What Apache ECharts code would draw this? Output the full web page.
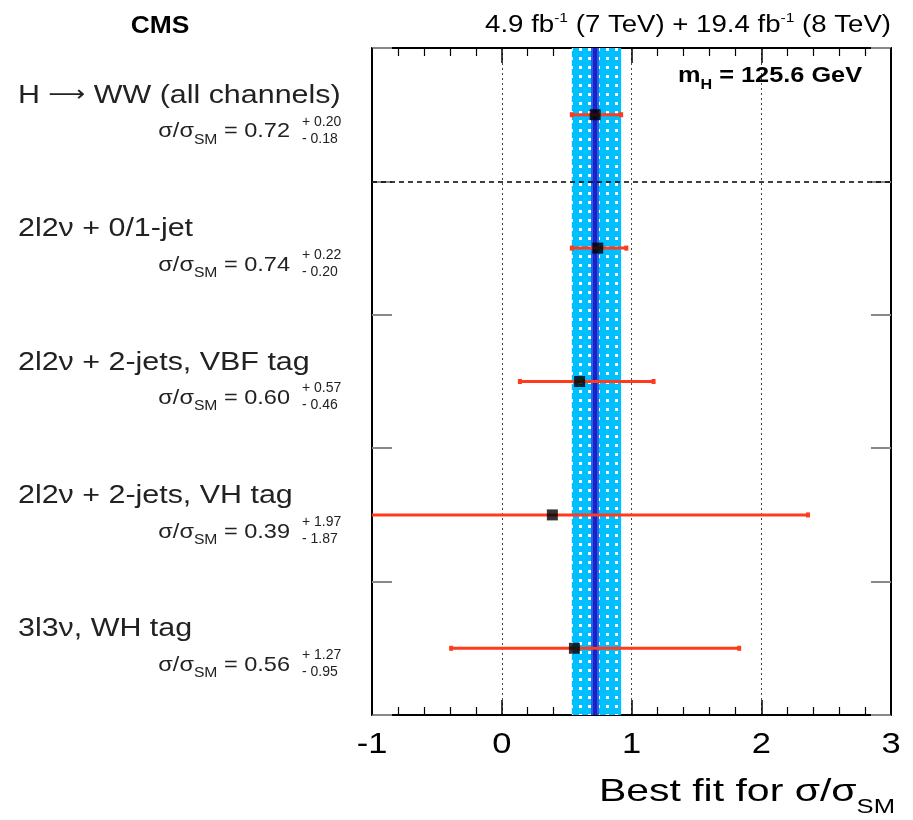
<!DOCTYPE html>
<html><head><meta charset="utf-8">
<script src="https://cdn.jsdelivr.net/npm/echarts@6/dist/echarts.min.js"></script>
<style>html,body{margin:0;padding:0;background:#fff}#c{width:913px;height:820px}</style>
</head><body><div id="c"></div>
<script>
// ---- data ----
const channels = ['H \u2192 WW (all channels)', '2l2\u03bd + 0/1-jet', '2l2\u03bd + 2-jets, VBF tag', '2l2\u03bd + 2-jets, VH tag', '3l3\u03bd, WH tag'];
const bestFit = [0.72, 0.74, 0.60, 0.39, 0.56];
const errUp   = [0.20, 0.22, 0.57, 1.97, 1.27];
const errDown = [0.18, 0.20, 0.46, 1.87, 0.95];
const xTickValues = [-1, 0, 1, 2, 3];
const massLabel = '125.6 GeV';

const XMIN = -1, XMAX = 3;
const FONT = '"Liberation Sans", Arial, Helvetica, sans-serif';
const RED = '#ff3b1c';

// dotted cyan pattern for the combined band
const pc = document.createElement('canvas');
pc.width = 9; pc.height = 9;
const pctx = pc.getContext('2d');
pctx.fillStyle = '#00bfff'; pctx.fillRect(0, 0, 9, 9);
pctx.fillStyle = '#ffffff'; pctx.fillRect(3, 3, 3, 3);

const rowY = channels.map((c, i) => i + 0.5);
const pointData = bestFit.map((v, i) => [v, rowY[i]]);
const errData = bestFit.map((v, i) => [v, rowY[i], v - errDown[i], v + errUp[i]]);
const comb = { v: bestFit[0], lo: bestFit[0] - errDown[0], hi: bestFit[0] + errUp[0] };

const chart = echarts.init(document.getElementById('c'), null, { renderer: 'canvas' });

const xAxisCommon = {
  type: 'value', min: XMIN, max: XMAX, interval: 1,
  axisLine: { show: true, onZero: false, lineStyle: { color: '#000', width: 2 } },
  axisTick: { show: true, inside: true, length: 15, lineStyle: { color: '#000', width: 1.5 } },
  minorTick: { show: true, splitNumber: 5, length: 8, lineStyle: { color: '#000', width: 1.2 } },
  axisLabel: { show: false },
  splitLine: { show: false }
};
const yAxisCommon = {
  type: 'value', min: 0, max: channels.length, interval: 1, inverse: true,
  axisLine: { show: true, onZero: false, lineStyle: { color: '#000', width: 2 } },
  axisTick: { show: true, inside: true, length: 20, lineStyle: { color: '#888', width: 2 } },
  axisLabel: { show: false },
  splitLine: { show: false }
};

chart.setOption({
  animation: false,
  backgroundColor: '#fff',
  grid: { left: 372, right: 22, top: 48, bottom: 105 },
  xAxis: [
    Object.assign({}, xAxisCommon, {
      position: 'bottom',
      splitLine: { show: true, lineStyle: { type: [2, 3], color: '#444', width: 1 } }
    }),
    Object.assign({}, xAxisCommon, { position: 'top' })
  ],
  yAxis: [
    Object.assign({}, yAxisCommon, { position: 'left' }),
    Object.assign({}, yAxisCommon, { position: 'right' })
  ],
  series: [
    {
      type: 'scatter', xAxisIndex: 0, yAxisIndex: 0, data: [], silent: true, z: 1,
      markArea: {
        silent: true,
        itemStyle: { color: { image: pc, repeat: 'repeat' }, borderWidth: 0 },
        data: [[{ xAxis: comb.lo, yAxis: 0 }, { xAxis: comb.hi, yAxis: channels.length }]]
      }
    },
    {
      type: 'scatter', xAxisIndex: 0, yAxisIndex: 0, data: [], silent: true, z: 2,
      markLine: {
        silent: true, symbol: 'none', label: { show: false },
        lineStyle: { color: '#2d5cf0', width: 8, type: 'solid' },
        data: [[{ coord: [comb.v, 0] }, { coord: [comb.v, channels.length] }]]
      }
    },
    {
      type: 'scatter', xAxisIndex: 0, yAxisIndex: 0, data: [], silent: true, z: 3,
      markLine: {
        silent: true, symbol: 'none', label: { show: false },
        lineStyle: { color: '#1a22c0', width: 4, type: 'solid' },
        data: [[{ coord: [comb.v, 0] }, { coord: [comb.v, channels.length] }]]
      }
    },
    {
      type: 'scatter', xAxisIndex: 0, yAxisIndex: 0, data: [], silent: true, z: 4,
      markLine: {
        silent: true, symbol: 'none', label: { show: false },
        lineStyle: { color: '#000', width: 1.5, type: [5, 4] },
        data: [[{ coord: [XMIN, 1] }, { coord: [XMAX, 1] }]]
      }
    },
    {
      type: 'custom', xAxisIndex: 0, yAxisIndex: 0, data: errData, silent: true, z: 5,
      renderItem: function (params, api) {
        const y = api.value(1), lo = api.value(2), hi = api.value(3);
        const l = Math.max(lo, XMIN), h = Math.min(hi, XMAX);
        const p1 = api.coord([l, y]), p2 = api.coord([h, y]);
        const ch = [{ type: 'line', shape: { x1: p1[0], y1: p1[1], x2: p2[0], y2: p2[1] },
          style: { stroke: RED, lineWidth: 3 } }];
        if (lo >= XMIN) ch.push({ type: 'rect', shape: { x: p1[0] - 2, y: p1[1] - 2.5, width: 4, height: 5 }, style: { fill: RED } });
        if (hi <= XMAX) ch.push({ type: 'rect', shape: { x: p2[0] - 2, y: p2[1] - 2.5, width: 4, height: 5 }, style: { fill: RED } });
        return { type: 'group', children: ch };
      }
    },
    {
      type: 'scatter', xAxisIndex: 0, yAxisIndex: 0, data: pointData, z: 6, silent: true,
      symbol: 'rect', symbolSize: 11, itemStyle: { color: '#000' }
    }
  ]
});

// ---- text labels ----
function fmt(v) { return v.toFixed(2); }
const g = [];
g.push({ type: 'text', x: 160, y: 26, scaleX: 1.1, style: { text: 'CMS', fontFamily: FONT, fontWeight: 'bold', fontSize: 24, fill: '#000', align: 'center', verticalAlign: 'middle' } });
g.push({ type: 'text', x: 891, y: 26, scaleX: 1.2, style: {
  text: '{t|4.9 fb}{s|-1}{t| (7 TeV) + 19.4 fb}{s|-1}{t| (8 TeV)}',
  align: 'right', verticalAlign: 'middle',
  rich: {
    t: { fontFamily: FONT, fontSize: 23, fill: '#000', lineHeight: 28 },
    s: { fontFamily: FONT, fontSize: 13, fill: '#000', lineHeight: 8, verticalAlign: 'top' }
  } } });
g.push({ type: 'text', x: 862, y: 76, z: 10, scaleX: 1.15, style: {
  text: '{t|m}{s|H}{t| = ' + massLabel + '}',
  align: 'right', verticalAlign: 'middle',
  rich: {
    t: { fontFamily: FONT, fontSize: 22, fontWeight: 'bold', fill: '#000', lineHeight: 32 },
    s: { fontFamily: FONT, fontSize: 14, fontWeight: 'bold', fill: '#000', lineHeight: 12, verticalAlign: 'bottom' }
  } } });

channels.forEach((name, i) => {
  const yc = chart.convertToPixel({ yAxisIndex: 0 }, rowY[i]);
  const parts = name.split('\u2192');
  const rt = parts.length > 1 ? '{t|' + parts[0] + '}{a|\u27f6}{t|' + parts[1] + '}' : '{t|' + name + '}';
  g.push({ type: 'text', x: 18, y: yc - 19, scaleX: 1.17, style: { text: rt, align: 'left', verticalAlign: 'middle',
    rich: {
      t: { fontFamily: FONT, fontSize: 26, fill: '#222', lineHeight: 30 },
      a: { fontFamily: '"DejaVu Sans", sans-serif', fontSize: 22, fill: '#222', lineHeight: 30 }
    } } });
  g.push({ type: 'text', x: 290, y: yc + 17, scaleX: 1.12, style: {
    text: '{t|\u03c3/\u03c3}{s|SM}{t| = ' + fmt(bestFit[i]) + '}',
    align: 'right', verticalAlign: 'middle',
    rich: {
      t: { fontFamily: FONT, fontSize: 21, fill: '#222', lineHeight: 30 },
      s: { fontFamily: FONT, fontSize: 14, fill: '#222', lineHeight: 12, verticalAlign: 'bottom' }
    } } });
  g.push({ type: 'text', x: 302, y: yc + 7, style: { text: '+ ' + fmt(errUp[i]), fontFamily: FONT, fontSize: 14, fill: '#222', align: 'left', verticalAlign: 'middle' } });
  g.push({ type: 'text', x: 302, y: yc + 24, style: { text: '- ' + fmt(errDown[i]), fontFamily: FONT, fontSize: 14, fill: '#222', align: 'left', verticalAlign: 'middle' } });
});

// x tick labels positioned from the axis scale
xTickValues.forEach(v => {
  const px = chart.convertToPixel({ xAxisIndex: 0 }, v);
  g.push({ type: 'text', x: px, y: 745, scaleX: 1.15, style: { text: String(v), fontFamily: FONT, fontSize: 30, fill: '#000', align: 'center', verticalAlign: 'middle' } });
});

g.push({ type: 'text', x: 895, y: 792, scaleX: 1.28, style: {
  text: '{t|Best fit for \u03c3/\u03c3}{s|SM}',
  align: 'right', verticalAlign: 'middle',
  rich: {
    t: { fontFamily: FONT, fontSize: 32, fill: '#000', lineHeight: 50 },
    s: { fontFamily: FONT, fontSize: 20, fill: '#000', lineHeight: 16, verticalAlign: 'bottom' }
  } } });

chart.setOption({ graphic: g });
</script>
</body></html>
